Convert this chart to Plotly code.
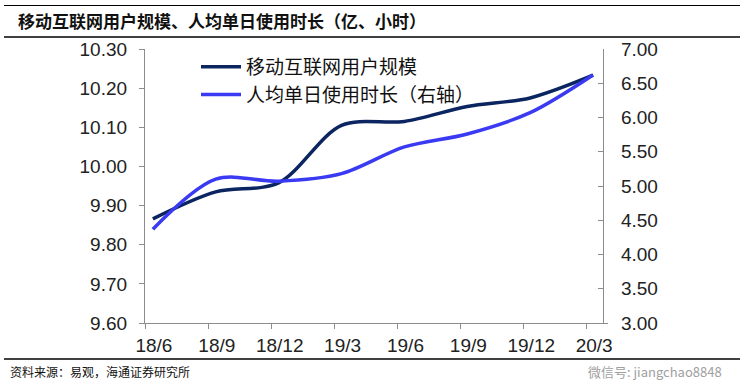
import plotly.graph_objects as go

# ---- data ----
categories = ["18/6", "18/9", "18/12", "19/3", "19/6", "19/9", "19/12", "20/3"]
users_100m = [9.866, 9.935, 9.958, 10.105, 10.115, 10.153, 10.175, 10.233]
daily_hours = [4.37, 5.10, 5.07, 5.18, 5.57, 5.76, 6.07, 6.62]
series_names = ["移动互联网用户规模", "人均单日使用时长（右轴）"]
title_text = "移动互联网用户规模、人均单日使用时长（亿、小时）"
source_text = "资料来源：易观，海通证券研究所"
watermark_text = "微信号: jiangchao8848"

# ---- layout geometry (pixels) ----
W, H = 744, 382
L, R, T, B = 145, 608, 49, 323
pw, ph = R - L, B - T


def px_x(x):
    return (x - L) / pw


def px_y(y):
    return (B - y) / ph


xi = list(range(len(categories)))
CJK = "Noto Sans CJK SC"
NUM = "Liberation Sans, Arial"

fig = go.Figure()
fig.add_trace(go.Scatter(
    x=xi, y=users_100m, name=series_names[0], mode="lines",
    line=dict(color="#0b2560", width=3.5, shape="spline", smoothing=0.9),
    yaxis="y"))
fig.add_trace(go.Scatter(
    x=xi, y=daily_hours, name=series_names[1], mode="lines",
    line=dict(color="#3a3af2", width=3.5, shape="spline", smoothing=0.9),
    yaxis="y2"))

axis_color = "#8c8c8c"
fig.update_layout(
    width=W, height=H,
    margin=dict(l=L, r=W - R, t=T, b=H - B, pad=0),
    plot_bgcolor="white", paper_bgcolor="white",
    showlegend=True,
    legend=dict(x=px_x(196), y=px_y(48), xanchor="left", yanchor="top",
                bgcolor="rgba(0,0,0,0)", font=dict(family=CJK, size=19, color="#111"),
                tracegroupgap=0, itemwidth=40),
    xaxis=dict(
        range=[-0.125, 7.238], showgrid=False, zeroline=False,
        showline=True, linecolor=axis_color, linewidth=1.2,
        tickvals=[i - 0.11 for i in xi], ticktext=categories,
        ticklabelshift=8, ticks="outside", ticklen=5, tickcolor=axis_color,
        tickfont=dict(family=NUM, size=19, color="#222"),
        ticklabelstandoff=0,
    ),
    yaxis=dict(
        range=[9.60, 10.30], dtick=0.1, tick0=9.6, tickformat=".2f",
        showgrid=False, zeroline=False, showline=True, linecolor=axis_color,
        linewidth=1.2, ticks="outside", ticklen=5, tickcolor=axis_color,
        tickfont=dict(family=NUM, size=19, color="#222"),
        ticklabelstandoff=8,
    ),
    yaxis2=dict(
        range=[3.0, 7.0], dtick=0.5, tick0=3.0, tickformat=".2f",
        overlaying="y", side="right", anchor="free", position=px_x(603),
        showgrid=False, zeroline=False, showline=True, linecolor=axis_color,
        linewidth=1.2, ticks="inside", ticklen=5, tickcolor=axis_color,
        tickfont=dict(family=NUM, size=19, color="#222"),
        ticklabelstandoff=13,
    ),
)

# frame lines around title / source
for y in (37, 359):
    fig.add_shape(type="line", xref="paper", yref="paper", layer="above",
                  x0=px_x(4), x1=px_x(740), y0=px_y(y), y1=px_y(y),
                  line=dict(color="black", width=1.5))
# top frame line drawn as a thin filled annotation box
fig.add_annotation(text="", xref="paper", yref="paper",
                   x=px_x(4), y=px_y(6), xanchor="left", yanchor="middle",
                   showarrow=False, width=736, height=1, borderpad=0,
                   bgcolor="black", borderwidth=0)

fig.add_annotation(text=title_text, xref="paper", yref="paper",
                   x=px_x(16), y=px_y(21), xanchor="left", yanchor="middle",
                   showarrow=False,
                   font=dict(family=CJK, size=17, color="#111", weight="bold"))
fig.add_annotation(text=source_text, xref="paper", yref="paper",
                   x=px_x(8), y=px_y(371), xanchor="left", yanchor="middle",
                   showarrow=False, font=dict(family=CJK, size=12, color="#111"))
fig.add_annotation(text=watermark_text, xref="paper", yref="paper",
                   x=px_x(724), y=px_y(371), xanchor="right", yanchor="middle",
                   showarrow=False,
                   font=dict(family=CJK, size=13, color="#a0a0a0"))

fig.write_html("out.html",
               config={"displayModeBar": False},
               post_script="document.body.style.margin='0';document.body.style.padding='0';")
